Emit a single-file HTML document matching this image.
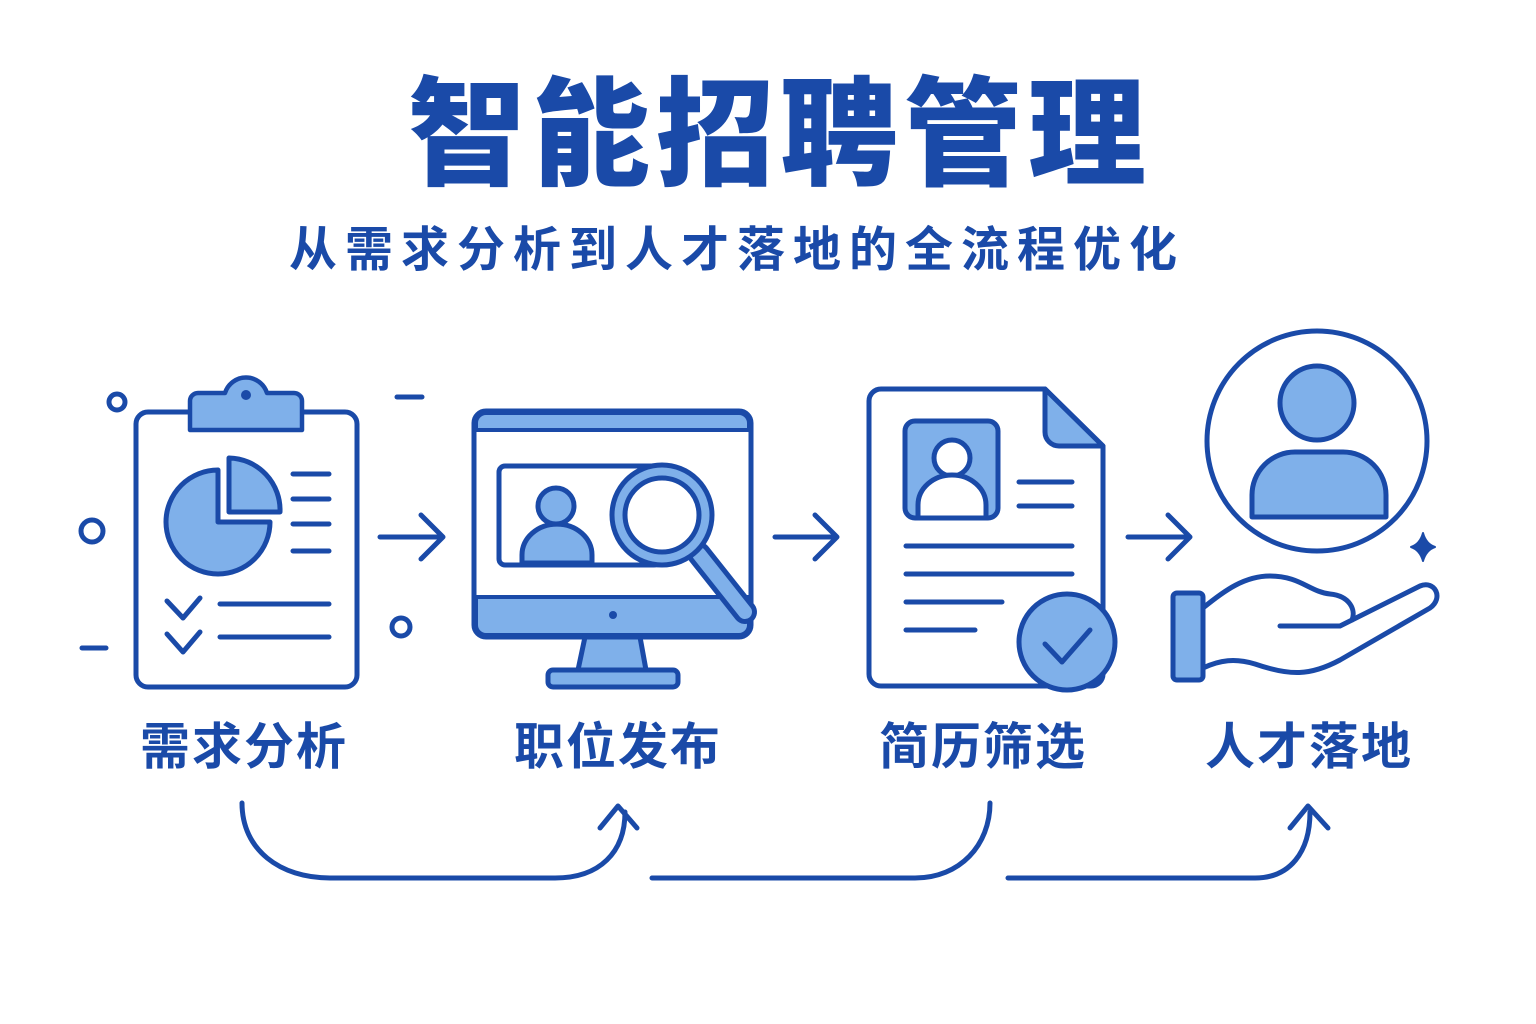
<!DOCTYPE html>
<html><head><meta charset="utf-8"><style>
body{margin:0;background:#fff;}
svg{display:block}
text{font-family:"Liberation Sans","Noto Sans CJK SC",sans-serif;fill:#1a4aa8;}
</style></head><body>
<svg width="1536" height="1024" viewBox="0 0 1536 1024" xmlns="http://www.w3.org/2000/svg">
<g>
<text x="780" y="176" font-size="118" font-weight="900" text-anchor="middle" letter-spacing="6">智能招聘管理</text>
<text x="737" y="266" font-size="48" font-weight="700" text-anchor="middle" letter-spacing="8">从需求分析到人才落地的全流程优化</text>
<text x="244" y="764" font-size="50" font-weight="700" text-anchor="middle" letter-spacing="2">需求分析</text>
<text x="618" y="764" font-size="50" font-weight="700" text-anchor="middle" letter-spacing="2">职位发布</text>
<text x="983" y="764" font-size="50" font-weight="700" text-anchor="middle" letter-spacing="2">简历筛选</text>
<text x="1309" y="764" font-size="50" font-weight="700" text-anchor="middle" letter-spacing="2">人才落地</text>
</g>
<g fill="none" stroke="#1a4aa8" stroke-width="5" stroke-linecap="round" stroke-linejoin="round">
<circle cx="117" cy="402" r="8"/><circle cx="92" cy="531" r="11"/><circle cx="401" cy="627" r="9"/>
<line x1="397" y1="397" x2="422" y2="397"/><line x1="82" y1="648" x2="106" y2="648"/>
<path d="M380 537 H443 M421 515 L443 537 L421 559"/>
<path d="M775 537 H837 M815 515 L837 537 L815 559"/>
<path d="M1128 537 H1190 M1168 515 L1190 537 L1168 559"/>
<!-- clipboard -->
<rect x="136" y="412" width="221" height="275" rx="12" fill="#fff"/>
<path d="M198 393 H225 A22 22 0 0 1 267 393 H294 A8 8 0 0 1 302 401 V430 H190 V401 A8 8 0 0 1 198 393 Z" fill="#7fb0ea" stroke-width="4.5"/>
<circle cx="246" cy="395" r="5" fill="#1a4aa8" stroke="none"/>
<path d="M218 470 A52 52 0 1 0 270 522 H218 Z" fill="#7fb0ea"/>
<path d="M229 458 A52 52 0 0 1 280 512 H229 Z" fill="#7fb0ea"/>
<path d="M293 474 H329 M293 499 H329 M293 524 H329 M293 551 H329"/>
<path d="M167 601 L183 618 L200 598 M167 634 L183 652 L200 632"/>
<path d="M220 604 H329 M220 637 H329"/>
<!-- monitor -->
<path d="M585 637 L578 670 H646 L640 637 Z" fill="#7fb0ea"/>
<rect x="548" y="670" width="130" height="17" rx="5" fill="#7fb0ea"/>
<rect x="474" y="411" width="277" height="226" rx="12" fill="#fff"/>
<path d="M476 430 V423 A10 10 0 0 1 486 413 H739 A10 10 0 0 1 749 423 V430 Z" fill="#7fb0ea" stroke-width="4"/>
<path d="M476 597 H749 V625 A10 10 0 0 1 739 635 H486 A10 10 0 0 1 476 625 Z" fill="#7fb0ea" stroke-width="4"/>
<circle cx="613" cy="615" r="4" fill="#1a4aa8" stroke="none"/>
<rect x="499" y="466" width="161" height="99" rx="6" fill="#fff"/>
<circle cx="556" cy="506" r="18" fill="#7fb0ea"/>
<path d="M522 563 V555 A34 30 0 0 1 592 555 V563 Z" fill="#7fb0ea"/>
<path d="M699 554 L745 612" stroke-width="24" stroke="#1a4aa8"/>
<path d="M699 554 L745 612" stroke-width="14" stroke="#7fb0ea"/>
<circle cx="662" cy="515" r="50" fill="#7fb0ea"/>
<circle cx="662" cy="515" r="37" fill="#fff"/>
<!-- resume -->
<path d="M881 389 H1045 L1103 446 V674 A12 12 0 0 1 1091 686 H881 A12 12 0 0 1 869 674 V401 A12 12 0 0 1 881 389 Z" fill="#fff"/>
<path d="M1045 389 V432 A14 14 0 0 0 1059 446 H1103 Z" fill="#7fb0ea"/>
<rect x="905" y="421" width="93" height="97" rx="10" fill="#7fb0ea"/>
<circle cx="952" cy="458" r="18" fill="#fff"/>
<path d="M918 518 V505 A34 30 0 0 1 986 505 V518 Z" fill="#fff"/>
<path d="M1019 482 H1072 M1019 506 H1072 M906 546 H1072 M906 574 H1072 M906 602 H1002 M906 630 H975"/>
<circle cx="1067" cy="642" r="48" fill="#7fb0ea"/>
<path d="M1045 644 L1062 662 L1090 630"/>
<!-- talent -->
<circle cx="1317" cy="441" r="110" fill="#fff"/>
<circle cx="1317" cy="403" r="37" fill="#7fb0ea"/>
<path d="M1252 517 V495 A43 43 0 0 1 1295 452 H1343 A43 43 0 0 1 1386 495 V517 Z" fill="#7fb0ea"/>
<rect x="1173" y="593" width="30" height="87" rx="4" fill="#7fb0ea"/>
<path d="M1203 608 C1225 590 1245 576 1270 576 C1300 576 1310 592 1330 594 C1350 596 1356 610 1352 620 L1420 586 C1435 580 1444 598 1430 608 L1340 660 C1310 676 1290 676 1255 664 C1235 658 1220 660 1203 668"/>
<path d="M1280 626 H1340 L1352 620"/>
<path d="M1423 533 Q1426 544 1435 547 Q1426 550 1423 561 Q1420 550 1411 547 Q1420 544 1423 533 Z" fill="#1a4aa8" stroke-width="2"/>
<!-- bottom flow -->
<path d="M242 803 C242 850 280 878 330 878 H555 C600 878 625 852 625 812"/>
<path d="M600 828 L618 806 L637 828"/>
<path d="M652 878 H915 C960 878 990 845 990 803"/>
<path d="M1008 878 H1255 C1290 878 1310 852 1310 812"/>
<path d="M1290 828 L1308 806 L1328 828"/>
</g>
</svg>
</body></html>
